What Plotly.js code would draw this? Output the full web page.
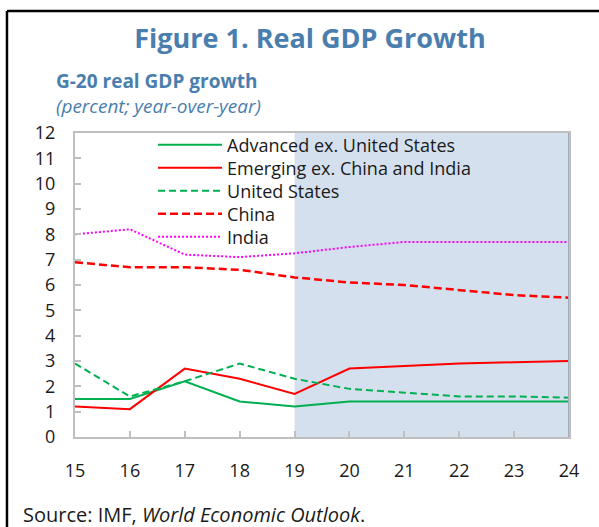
<!DOCTYPE html>
<html>
<head>
<meta charset="utf-8">
<script src="https://cdn.plot.ly/plotly-3.0.1.min.js"></script>
<style>html,body{margin:0;padding:0;background:#fff;}#chart{width:599px;height:527px;}</style>
</head>
<body>
<div id="chart"></div>
<script>
const years = [15, 16, 17, 18, 19, 20, 21, 22, 23, 24];
const tickLabels = ["15", "16", "17", "18", "19", "20", "21", "22", "23", "24"];
const advancedExUS = [1.5, 1.5, 2.2, 1.4, 1.2, 1.4, 1.4, 1.4, 1.4, 1.4];
const emergingExChinaIndia = [1.2, 1.1, 2.7, 2.3, 1.7, 2.7, 2.8, 2.9, 2.95, 3.0];
const unitedStates = [2.9, 1.6, 2.2, 2.9, 2.3, 1.9, 1.75, 1.6, 1.6, 1.55];
const china = [6.9, 6.7, 6.7, 6.6, 6.3, 6.1, 6.0, 5.8, 5.6, 5.5];
const india = [8.0, 8.2, 7.2, 7.1, 7.25, 7.5, 7.7, 7.7, 7.7, 7.7];
const seriesNames = ["Advanced ex. United States", "Emerging ex. China and India", "United States", "China", "India"];
const forecastStart = 19;
const forecastEnd = 24;

const GREEN = "#00b050", RED = "#ff0000", MAGENTA = "#ff00ff";
const FONT = "Open Sans, Noto Sans, sans-serif";
const TITLE_BLUE = "#4a7eae";
const legendIds = ["legend", "legend2", "legend3", "legend4", "legend5"];
const legendRowsY = [0.9605, 0.8849, 0.8092, 0.7336, 0.6579];

const styles = [
  {color: GREEN, width: 2},
  {color: RED, width: 2},
  {color: GREEN, width: 2, dash: "7px,4px"},
  {color: RED, width: 2.5, dash: "8px,4px"},
  {color: MAGENTA, width: 2, dash: "2px,2px"}
];
const seriesValues = [advancedExUS, emergingExChinaIndia, unitedStates, china, india];

const traces = seriesValues.map((vals, i) => ({
  type: "scatter", mode: "lines", hoverinfo: "skip",
  x: years, y: vals, name: seriesNames[i], line: styles[i], legend: legendIds[i]
}));

const layout = {
  width: 599, height: 527,
  margin: {l: 75, r: 30, t: 133, b: 90},
  paper_bgcolor: "#ffffff", plot_bgcolor: "rgba(0,0,0,0)",
  font: {family: FONT, size: 18, color: "#1a1a1a"},
  showlegend: true,
  title: {
    text: "<b>Figure 1. Real GDP Growth</b>",
    font: {family: FONT, size: 27, color: TITLE_BLUE},
    xref: "container", yref: "container",
    x: 0.5175, xanchor: "center", y: 0.927, yanchor: "middle"
  },
  xaxis: {
    range: [15, 24], tickmode: "array", tickvals: years, ticktext: tickLabels,
    ticks: "inside", ticklen: 6, tickwidth: 2, tickcolor: "#bfbfbf",
    showline: true, linecolor: "#bfbfbf", linewidth: 2, mirror: true,
    showgrid: false, zeroline: false, ticklabelstandoff: 16,
    tickfont: {family: FONT, size: 18, color: "#1a1a1a"}
  },
  yaxis: {
    range: [0, 12], dtick: 1, tick0: 0,
    ticks: "inside", ticklen: 6, tickwidth: 2, tickcolor: "#bfbfbf",
    showline: true, linecolor: "#bfbfbf", linewidth: 2, mirror: true,
    showgrid: false, zeroline: false, ticklabelstandoff: 14,
    tickfont: {family: FONT, size: 18, color: "#1a1a1a"}
  },
  shapes: [
    {type: "rect", xref: "x", yref: "paper", x0: forecastStart, x1: forecastEnd, y0: 0, y1: 1,
     fillcolor: "#d5e0ee", line: {width: 0}, layer: "below"},
    {type: "line", xref: "x", yref: "paper", x0: forecastEnd, x1: forecastEnd, y0: 0, y1: 1,
     line: {color: "#a3adbb", width: 2}},
    {type: "line", xref: "paper", yref: "paper", x0: -0.1377, x1: 1.07, y0: 1.4013, y1: 1.4013,
     line: {color: "#000000", width: 2.5}},
    {type: "line", xref: "paper", yref: "paper", x0: -0.1377, x1: -0.1377, y0: 1.4013, y1: -0.31,
     line: {color: "#000000", width: 2.5}}
  ],
  annotations: [
    {xref: "paper", yref: "paper", x: -0.0425, y: 1.1299, xanchor: "left", yanchor: "middle",
     align: "left",
     text: "<b>G-20 real GDP growth</b><br><i>(percent; year-over-year)</i>", showarrow: false,
     font: {family: FONT, size: 19, color: TITLE_BLUE}},
    {xref: "paper", yref: "paper", x: -0.109, y: -0.2533, xanchor: "left", yanchor: "middle",
     text: "Source: IMF, <i>World Economic Outlook</i>.", showarrow: false,
     font: {family: FONT, size: 20, color: "#1a1a1a"}}
  ]
};

legendIds.forEach((id, i) => {
  layout[id] = {
    x: 0.158, xanchor: "left", y: legendRowsY[i], yanchor: "middle",
    bgcolor: "rgba(0,0,0,0)", borderwidth: 0, itemwidth: 64,
    font: {family: FONT, size: 18, color: "#1a1a1a"}, itemclick: false
  };
});

Plotly.newPlot("chart", traces, layout, {displayModeBar: false, staticPlot: true});
</script>
</body>
</html>
